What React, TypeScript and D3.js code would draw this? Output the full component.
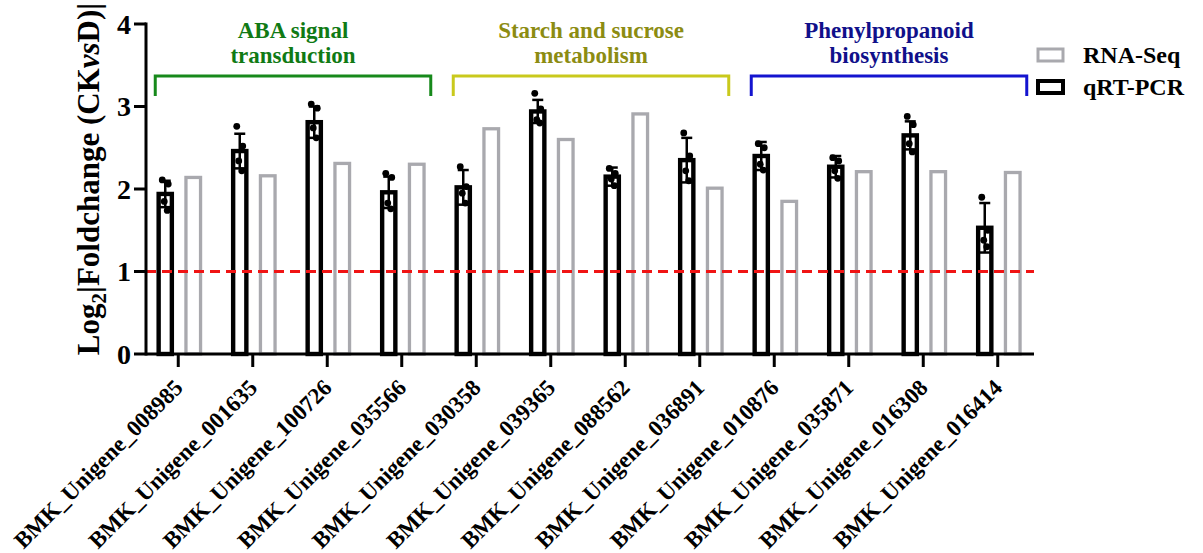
import { useEffect, useRef } from "react"
import * as d3 from "d3"

const genes = [
  "BMK_Unigene_008985",
  "BMK_Unigene_001635",
  "BMK_Unigene_100726",
  "BMK_Unigene_035566",
  "BMK_Unigene_030358",
  "BMK_Unigene_039365",
  "BMK_Unigene_088562",
  "BMK_Unigene_036891",
  "BMK_Unigene_010876",
  "BMK_Unigene_035871",
  "BMK_Unigene_016308",
  "BMK_Unigene_016414",
]

const rnaSeq = [2.14, 2.16, 2.31, 2.3, 2.73, 2.6, 2.91, 2.01, 1.85, 2.21, 2.21, 2.2]
const qpcr = [1.94, 2.46, 2.81, 1.96, 2.02, 2.94, 2.15, 2.35, 2.4, 2.27, 2.65, 1.53]
const qpcrSd = [0.16, 0.21, 0.19, 0.19, 0.21, 0.14, 0.11, 0.27, 0.17, 0.13, 0.17, 0.3]
const qpcrReps = [
  [2.11, 2.06, 1.85, 1.74],
  [2.76, 2.52, 2.34, 2.22],
  [3.03, 2.98, 2.74, 2.62],
  [2.19, 2.14, 1.83, 1.76],
  [2.27, 2.03, 1.95, 1.83],
  [3.16, 2.97, 2.84, 2.8],
  [2.25, 2.19, 2.12, 2.04],
  [2.68, 2.4, 2.22, 2.1],
  [2.55, 2.5, 2.3, 2.23],
  [2.38, 2.34, 2.22, 2.13],
  [2.88, 2.78, 2.55, 2.45],
  [1.9, 1.5, 1.38, 1.3],
]

const groupLabels = [
  ["ABA signal", "transduction"],
  ["Starch and sucrose", "metabolism"],
  ["Phenylpropanoid", "biosynthesis"],
]
const groupSpans = [
  [0, 3],
  [4, 7],
  [8, 11],
]
const groupLineColors = ["#17891b", "#c9c91c", "#1414cf"]
const groupTextColors = ["#107a14", "#8c8c12", "#10108a"]

const yTicks = [0, 1, 2, 3, 4]
const threshold = 1

const FONT = "'Liberation Serif', 'Times New Roman', serif"
const GRAY = "#a9a9ae"

export default function App() {
  const svgRef = useRef(null)

  useEffect(() => {
    if (!svgRef.current) return
    const svg = d3.select(svgRef.current)
    svg.selectAll("*").remove()

    const width = 1203
    const height = 553
    const left = 146
    const right = 1034

    const x = d3.scaleBand().domain(genes).range([141, 1035])
    const cx = (g) => x(g) + x.bandwidth() / 2
    const y = d3.scaleLinear().domain([0, 4]).range([354, 24])

    const root = svg.append("g").style("font-family", FONT).attr("font-weight", "bold")

    // RNA-Seq bars (grey)
    root
      .selectAll("rect.rna")
      .data(genes)
      .enter()
      .append("rect")
      .attr("class", "rna")
      .attr("x", (g) => cx(g) + 15 - 7.3)
      .attr("y", (g, i) => y(rnaSeq[i]))
      .attr("width", 14.6)
      .attr("height", (g, i) => y(0) - y(rnaSeq[i]))
      .attr("fill", "none")
      .attr("stroke", GRAY)
      .attr("stroke-width", 3.3)

    // qRT-PCR bars (black)
    root
      .selectAll("rect.pcr")
      .data(genes)
      .enter()
      .append("rect")
      .attr("class", "pcr")
      .attr("x", (g) => cx(g) - 13 - 6.6)
      .attr("y", (g, i) => y(qpcr[i]))
      .attr("width", 13.2)
      .attr("height", (g, i) => y(0) - y(qpcr[i]))
      .attr("fill", "none")
      .attr("stroke", "#000")
      .attr("stroke-width", 4.4)

    // error bars
    const err = root.append("g").attr("stroke", "#000").attr("stroke-width", 2.5)
    genes.forEach((g, i) => {
      const bx = cx(g) - 13
      const hi = y(qpcr[i] + qpcrSd[i])
      const lo = y(qpcr[i] - qpcrSd[i])
      err.append("line").attr("x1", bx).attr("x2", bx).attr("y1", hi).attr("y2", lo)
      err.append("line").attr("x1", bx - 5.5).attr("x2", bx + 5.5).attr("y1", hi).attr("y2", hi)
      err.append("line").attr("x1", bx - 5.5).attr("x2", bx + 5.5).attr("y1", lo).attr("y2", lo)
    })

    // replicate dots
    const jitter = [-3, 3, -1, 2]
    genes.forEach((g, i) => {
      root
        .selectAll(null)
        .data(qpcrReps[i])
        .enter()
        .append("circle")
        .attr("cx", (v, k) => cx(g) - 13 + jitter[k % jitter.length])
        .attr("cy", (v) => y(v))
        .attr("r", 3.4)
        .attr("fill", "#000")
    })

    // threshold line
    root
      .append("line")
      .attr("x1", left)
      .attr("x2", right)
      .attr("y1", y(threshold))
      .attr("y2", y(threshold))
      .attr("stroke", "#f01414")
      .attr("stroke-width", 3.2)
      .attr("stroke-dasharray", "10,6")

    // y axis
    const yAxis = root.append("g").attr("stroke", "#000").attr("stroke-width", 3)
    yAxis.append("line").attr("x1", left).attr("x2", left).attr("y1", y(4) - 1.5).attr("y2", y(0) + 1.5)
    yTicks.forEach((t) => {
      yAxis.append("line").attr("x1", left - 12).attr("x2", left).attr("y1", y(t)).attr("y2", y(t))
    })
    root
      .selectAll("text.ytick")
      .data(yTicks)
      .enter()
      .append("text")
      .attr("x", 131)
      .attr("y", (t) => y(t))
      .attr("dy", "0.35em")
      .attr("text-anchor", "end")
      .attr("font-size", 28)
      .text((t) => t)

    // x axis
    const xAxis = root.append("g").attr("stroke", "#000").attr("stroke-width", 3)
    xAxis.append("line").attr("x1", left).attr("x2", right).attr("y1", y(0)).attr("y2", y(0))
    genes.forEach((g) => {
      xAxis.append("line").attr("x1", cx(g)).attr("x2", cx(g)).attr("y1", y(0)).attr("y2", y(0) + 13)
    })
    root
      .selectAll("text.xtick")
      .data(genes)
      .enter()
      .append("text")
      .attr("transform", (g) => `translate(${cx(g) + 6},${389}) rotate(-45)`)
      .attr("text-anchor", "end")
      .attr("font-size", 23)
      .text((g) => g)

    // y label
    const yl = root
      .append("text")
      .attr("transform", "translate(99,179) rotate(-90)")
      .attr("text-anchor", "middle")
      .attr("font-size", 31)
    yl.append("tspan").text("Log")
    yl.append("tspan").attr("font-size", 21).attr("dy", 7).text("2")
    yl.append("tspan").attr("dy", -7).text("|Foldchange (CK")
    yl.append("tspan").attr("font-style", "italic").text("vs")
    yl.append("tspan").text("D)|")

    // group brackets and labels
    groupSpans.forEach(([a, b], i) => {
      const x0 = cx(genes[a]) - 23
      const x1 = cx(genes[b]) + 29
      root
        .append("path")
        .attr("d", `M${x0},96V76H${x1}V96`)
        .attr("fill", "none")
        .attr("stroke", groupLineColors[i])
        .attr("stroke-width", 3)
      root
        .selectAll(null)
        .data(groupLabels[i])
        .enter()
        .append("text")
        .attr("x", (x0 + x1) / 2)
        .attr("y", (d, k) => 37.5 + k * 25)
        .attr("text-anchor", "middle")
        .attr("font-size", 23)
        .attr("fill", groupTextColors[i])
        .text((d) => d)
    })

    // legend
    const legendItems = [
      { name: "RNA-Seq", color: GRAY, sw: 3 },
      { name: "qRT-PCR", color: "#000", sw: 4 },
    ]
    legendItems.forEach((d, i) => {
      const ly = 49 + i * 32
      root
        .append("rect")
        .attr("x", 1038)
        .attr("y", ly)
        .attr("width", 25)
        .attr("height", 12)
        .attr("fill", "none")
        .attr("stroke", d.color)
        .attr("stroke-width", d.sw)
      root
        .append("text")
        .attr("x", 1083)
        .attr("y", ly + 14)
        .attr("font-size", 24)
        .text(d.name)
    })

    svg.attr("width", width).attr("height", height).attr("viewBox", [0, 0, width, height])
  }, [])

  return (
    <div>
      <svg ref={svgRef} style={{ position: "absolute", left: 0, top: 0, background: "#fff" }}></svg>
    </div>
  )
}
